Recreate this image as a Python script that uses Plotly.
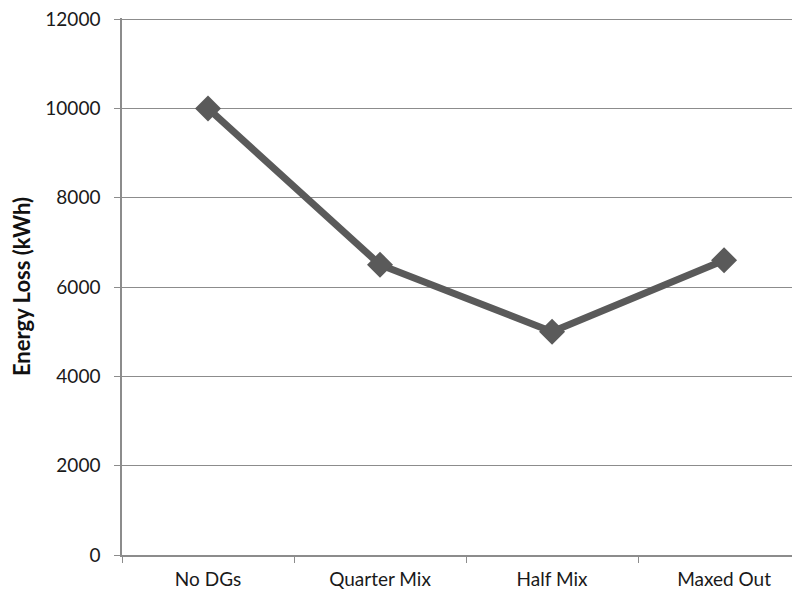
import plotly.graph_objects as go

scenarios = ["No DGs", "Quarter Mix", "Half Mix", "Maxed Out"]
energy_loss = [10000, 6500, 5000, 6600]
y_ticks = [0, 2000, 4000, 6000, 8000, 10000, 12000]

fig = go.Figure()
fig.add_trace(go.Scatter(
    x=scenarios, y=energy_loss, mode="lines+markers",
    line=dict(color="#5a5a5a", width=7),
    marker=dict(symbol="diamond", size=20, color="#5a5a5a"),
    showlegend=False,
))

# page body has an 8px offset, so margins are shifted to land the plot where the original sits
fig.update_layout(
    width=800, height=596,
    margin=dict(l=114, r=0, t=10, b=49),
    paper_bgcolor="white", plot_bgcolor="white",
    font=dict(family="Lato", size=19, color="#1a1a1a"),
)
fig.update_xaxes(
    range=[-0.5, 3.488], tickson="boundaries",
    showline=True, linecolor="#8c8c8c", linewidth=1.5,
    ticks="outside", ticklen=6, tickcolor="#8c8c8c",
    showgrid=False, zeroline=False, ticklabelstandoff=6,
)
fig.update_yaxes(
    range=[0, 12025], tickvals=y_ticks, tickformat="d",
    ticklabeloverflow="allow",
    showline=True, linecolor="#8c8c8c", linewidth=1.5,
    ticks="outside", ticklen=6, tickcolor="#8c8c8c",
    gridcolor="#8c8c8c", gridwidth=1, zeroline=False,
    ticklabelstandoff=10,
    title=dict(text="<b>Energy Loss (kWh)</b>", font=dict(size=22, color="#111"), standoff=20),
)

fig.write_html("out.html")
